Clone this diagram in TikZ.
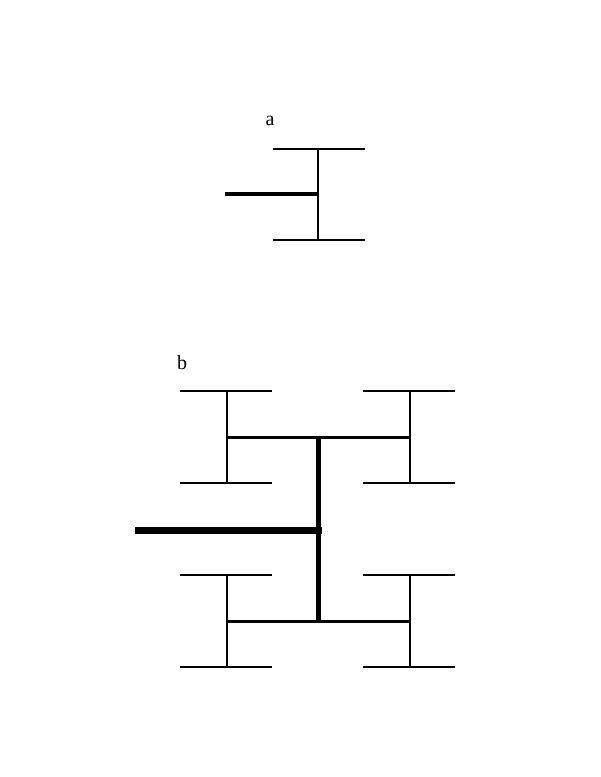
\documentclass[tikz,border=0pt]{standalone}
\usepackage{fontspec}
\setmainfont{Liberation Serif}
\tikzset{every picture/.style={line width=0.75pt}}
\tikzset{
  thinbar/.style={line width=1.5pt},
  midbar/.style={line width=2.25pt},
  trunkbar/.style={line width=3.75pt},
  rootbar/.style={line width=5.25pt},
  treelabel/.style={inner sep=0.75pt,font=\fontsize{15}{18}\selectfont}
}

\begin{document}
\begin{tikzpicture}[x=0.75pt,y=0.75pt,yscale=-1,xscale=1]
\useasboundingbox (0,0) rectangle (600,777);

% Part a
\coordinate (aRoot) at (225,194);
\coordinate (aMid) at (318,194);
\coordinate (aTop) at (318,149);
\coordinate (aBot) at (318,240);
\coordinate (aTL) at (273,149);
\coordinate (aTR) at (365,149);
\coordinate (aBL) at (273,240);
\coordinate (aBR) at (365,240);
%Straight Lines
\draw [line width=3pt] (aRoot) -- (aMid) ;
\draw [thinbar] (aTop) -- (aBot) ;
\draw [thinbar] (aTL) -- (aTR) ;
\draw [thinbar] (aBL) -- (aBR) ;
% Text Node
\draw (270,121) node [treelabel] (lblA) {a};

% Part b
\coordinate (bRoot) at (135,530);
\coordinate (bMid) at (322,530);
\coordinate (bTop) at (318,437);
\coordinate (bBot) at (318,621);
%Straight Lines
\draw [rootbar] (bRoot) -- (bMid) ;
\draw [trunkbar] (bTop) -- (bBot) ;
\draw [midbar] (227,437) -- (410,437) ;
\draw [midbar] (227,621) -- (410,621) ;
% four small H ends
\foreach \cx/\cy in {227/437, 410/437, 227/621, 410/621}{
  \coordinate (hU) at (\cx,\cy-46);
  \coordinate (hD) at (\cx,\cy+46);
  \draw [thinbar] (hU) -- (hD) ;
  \draw [thinbar] ([xshift=-35pt]hU) -- ([xshift=34pt]hU) ;
  \draw [thinbar] ([xshift=-35pt]hD) -- ([xshift=34pt]hD) ;
}
% Text Node
\draw (182,363) node [treelabel] (lblB) {b};

\end{tikzpicture}
\end{document}
